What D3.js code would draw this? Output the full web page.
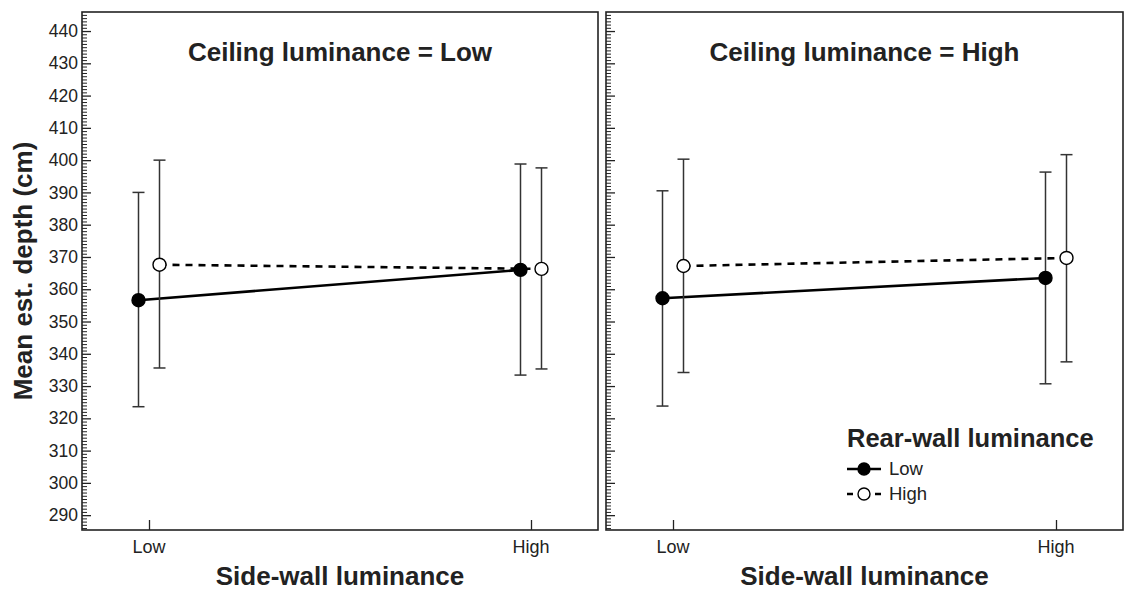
<!DOCTYPE html>
<html>
<head>
<meta charset="utf-8">
<script src="https://cdn.jsdelivr.net/npm/d3@7"></script>
<style>
  body { margin: 0; background: #fff; }
  svg text { font-family: "Liberation Sans", Arial, sans-serif; fill: #222; }
</style>
</head>
<body>
<svg width="1129" height="592"></svg>
<script>
// data
var panels = ["Low", "High"];               // ceiling luminance
var sideWall = ["Low", "High"];             // x categories
var rearWall = ["Low", "High"];             // series
var means = {
  "Low":  {"Low": [356.6, 366.0], "High": [367.6, 366.3]},
  "High": {"Low": [357.2, 363.5], "High": [367.2, 369.7]}
};
var upper = {
  "Low":  {"Low": [390.0, 398.8], "High": [400.0, 397.6]},
  "High": {"Low": [390.5, 396.3], "High": [400.3, 401.7]}
};
var lower = {
  "Low":  {"Low": [323.6, 333.4], "High": [335.6, 335.3]},
  "High": {"Low": [323.8, 330.7], "High": [334.2, 337.5]}
};
var yMajor = d3.range(290, 441, 10);

var svg = d3.select("svg");
var ink = "#222";

var frames = [{x0: 82, x1: 598}, {x0: 606, x1: 1123}];
var plotTop = 12, plotBottom = 530;

var y = d3.scaleLinear().domain([285.4, 445.9]).range([plotBottom, plotTop]);
var dodge = {"Low": -10.5, "High": 10.5};

panels.forEach(function(p, i) {
  var f = frames[i];
  var x = d3.scalePoint().domain(sideWall).range([f.x0 + 67, f.x1 - 67]);
  var g = svg.append("g");

  // minor ticks (inward)
  var minor = d3.range(286, 446, 1).filter(function(v) { return v % 10 != 0; });
  g.append("g")
    .attr("transform", "translate(" + f.x0 + ",0)")
    .call(d3.axisRight(y).tickValues(minor).tickSize(5).tickFormat(""))
    .call(function(s) { s.select(".domain").remove(); s.selectAll("line").attr("stroke", ink).attr("stroke-width", 1); });

  // major ticks
  var ax = g.append("g")
    .attr("transform", "translate(" + f.x0 + ",0)")
    .call(d3.axisRight(y).tickValues(yMajor).tickSize(9).tickFormat(""));
  ax.select(".domain").remove();
  ax.selectAll("line").attr("stroke", ink).attr("stroke-width", 1.3);
  if (i == 0) {
    g.append("g").selectAll("text").data(yMajor).join("text")
      .attr("x", f.x0 - 4).attr("y", function(d) { return y(d); })
      .attr("dy", "0.35em").attr("text-anchor", "end")
      .style("font-size", "17.5px").text(function(d) { return d; });
  }

  // x ticks inward
  var xa = g.append("g")
    .attr("transform", "translate(0," + plotBottom + ")")
    .call(d3.axisTop(x).tickSize(10).tickFormat(""));
  xa.select(".domain").remove();
  xa.selectAll("line").attr("stroke", ink).attr("stroke-width", 1.3);
  g.selectAll(".xl").data(sideWall).join("text")
    .attr("x", function(d) { return x(d); }).attr("y", plotBottom + 23)
    .attr("text-anchor", "middle").style("font-size", "18px")
    .text(function(d) { return d; });

  // frame
  g.append("rect")
    .attr("x", f.x0).attr("y", plotTop)
    .attr("width", f.x1 - f.x0).attr("height", plotBottom - plotTop)
    .attr("fill", "none").attr("stroke", ink).attr("stroke-width", 1.6);

  // titles
  g.append("text")
    .attr("x", (f.x0 + f.x1) / 2).attr("y", 61)
    .attr("text-anchor", "middle").style("font-size", "26px").style("font-weight", "bold")
    .text("Ceiling luminance = " + p);
  g.append("text")
    .attr("x", (f.x0 + f.x1) / 2).attr("y", 585)
    .attr("text-anchor", "middle").style("font-size", "26px").style("font-weight", "bold")
    .text("Side-wall luminance");

  // series
  rearWall.forEach(function(s) {
    var pts = sideWall.map(function(c, k) {
      return {x: x(c) + dodge[s], m: means[p][s][k], hi: upper[p][s][k], lo: lower[p][s][k]};
    });
    var eb = g.append("g").selectAll("g").data(pts).join("g")
      .attr("stroke", "#333").attr("stroke-width", 1.5);
    eb.append("line")
      .attr("x1", function(d) { return d.x; }).attr("x2", function(d) { return d.x; })
      .attr("y1", function(d) { return y(d.hi); }).attr("y2", function(d) { return y(d.lo); });
    eb.append("line")
      .attr("x1", function(d) { return d.x - 6; }).attr("x2", function(d) { return d.x + 6; })
      .attr("y1", function(d) { return y(d.hi); }).attr("y2", function(d) { return y(d.hi); });
    eb.append("line")
      .attr("x1", function(d) { return d.x - 6; }).attr("x2", function(d) { return d.x + 6; })
      .attr("y1", function(d) { return y(d.lo); }).attr("y2", function(d) { return y(d.lo); });

    g.append("path")
      .attr("d", d3.line().x(function(d) { return d.x; }).y(function(d) { return y(d.m); })(pts))
      .attr("fill", "none").attr("stroke", "#000").attr("stroke-width", 2.6)
      .attr("stroke-dasharray", s == "High" ? "7,6" : null);

    g.selectAll(".pt" + s).data(pts).join("circle")
      .attr("cx", function(d) { return d.x; }).attr("cy", function(d) { return y(d.m); })
      .attr("r", 6.5)
      .attr("fill", s == "Low" ? "#000" : "#fff")
      .attr("stroke", "#000").attr("stroke-width", 1.4);
  });
});

// y axis title
svg.append("text")
  .attr("transform", "translate(32," + ((plotTop + plotBottom) / 2) + ") rotate(-90)")
  .attr("text-anchor", "middle").style("font-size", "26px").style("font-weight", "bold")
  .text("Mean est. depth (cm)");

// legend
var lg = svg.append("g").attr("transform", "translate(847,0)");
lg.append("text").attr("x", 0).attr("y", 447)
  .style("font-size", "25.5px").style("font-weight", "bold").text("Rear-wall luminance");
rearWall.forEach(function(s, k) {
  var ly = 469 + k * 25;
  lg.append("line").attr("x1", 0).attr("x2", 34).attr("y1", ly).attr("y2", ly)
    .attr("stroke", "#000").attr("stroke-width", 2.6)
    .attr("stroke-dasharray", s == "High" ? "6,22,6" : null);
  lg.append("circle").attr("cx", 17).attr("cy", ly).attr("r", 6)
    .attr("fill", s == "Low" ? "#000" : "#fff").attr("stroke", "#000").attr("stroke-width", 1.4);
  lg.append("text").attr("x", 42).attr("y", ly).attr("dy", "0.35em")
    .style("font-size", "18.5px").text(s);
});
</script>
</body>
</html>
